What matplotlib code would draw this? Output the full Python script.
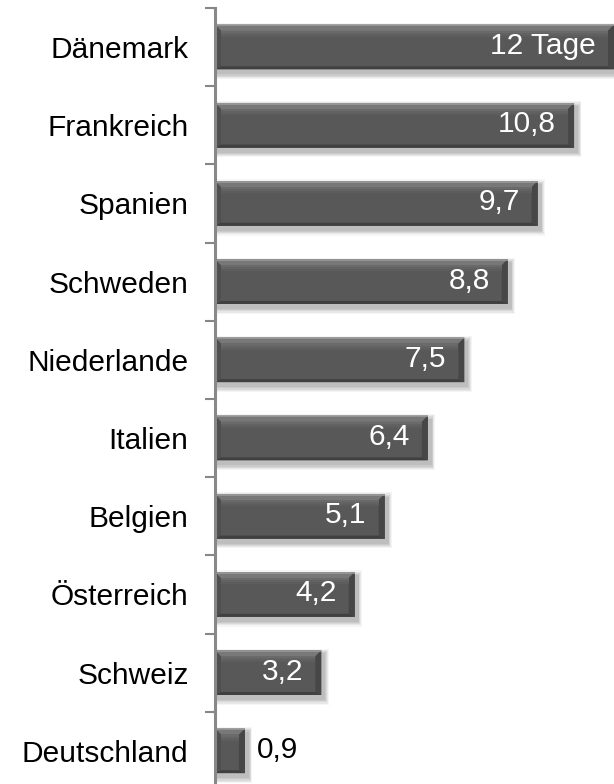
import numpy as np
import matplotlib.pyplot as plt
from matplotlib.patches import Polygon
import matplotlib.patheffects as pe

plt.rcParams['font.family'] = ['Liberation Sans', 'DejaVu Sans']

laender = ['Dänemark', 'Frankreich', 'Spanien', 'Schweden', 'Niederlande',
           'Italien', 'Belgien', 'Österreich', 'Schweiz', 'Deutschland']
tage = [12, 10.8, 9.7, 8.8, 7.5, 6.4, 5.1, 4.2, 3.2, 0.9]
beschriftung = ['12 Tage', '10,8', '9,7', '8,8', '7,5', '6,4', '5,1', '4,2', '3,2', '0,9']

W, H = 614, 784
fig = plt.figure(figsize=(W / 100, H / 100), dpi=100)
ax = fig.add_axes([215 / W, -6 / H, 399 / W, 782 / H])

y = np.arange(len(laender))
hoehe = 0.57
xmax = 12.0
ax.set_xlim(0, xmax)
ax.set_ylim(len(laender) - 0.5, -0.5)

# soft shadow under each bar, built from a few translucent layers
px_x = xmax / 399
px_y = len(laender) / 782
for yi, v in zip(y, tage):
    for k, a in enumerate([0.10, 0.10, 0.10, 0.08, 0.06]):
        grow = k * 1.2
        ax.add_patch(plt.Rectangle((px_x * (2 - grow * 0.3), yi - hoehe / 2 + px_y * (3 - grow)),
                                   v + px_x * (2 + grow), hoehe + px_y * (2 + 2 * grow),
                                   facecolor='#555555', alpha=a, edgecolor='none',
                                   zorder=1, clip_on=False))

bars = ax.barh(y, tage, height=hoehe, color='#585858', edgecolor='none', zorder=2,
               clip_on=False)

# bevel edges, sized in pixels
bx, by = 6 * px_x, 6 * px_y
for yi, v in zip(y, tage):
    x0, x1 = 0, v
    top, bot = yi - hoehe / 2, yi + hoehe / 2
    ex = min(bx, v / 2)
    faces = [
        ([(x0, top), (x1, top), (x1 - ex, top + by), (x0 + ex, top + by)], '#787878'),
        ([(x0, top), (x0 + ex, top + by), (x0 + ex, bot - by / 2), (x0, bot)], '#4f4f4f'),
        ([(x1, top), (x1, bot), (x1 - ex, bot - by / 2), (x1 - ex, top + by)], '#474747'),
        ([(x0, bot), (x0 + ex, bot - by / 2), (x1 - ex, bot - by / 2), (x1, bot)], '#404040'),
    ]
    for pts, c in faces:
        ax.add_patch(Polygon(pts, closed=True, facecolor=c, edgecolor='none', zorder=3,
                             clip_on=False))
    # gradient from the top bevel into the face
    for k, c in enumerate(['#6a6a6a', '#626262', '#5d5d5d']):
        ax.add_patch(Polygon([(x0 + ex, top + by + k * px_y * 2), (x1 - ex, top + by + k * px_y * 2),
                              (x1 - ex, top + by + (k + 1) * px_y * 2),
                              (x0 + ex, top + by + (k + 1) * px_y * 2)],
                             closed=True, facecolor=c, edgecolor='none', zorder=3,
                             clip_on=False))
    # thin light rim along the top
    ax.plot([x0, x1], [top + px_y * 0.5] * 2, color='#9a9a9a', lw=1.2, zorder=4,
            clip_on=False, solid_capstyle='butt')

for yi, v, txt in zip(y, tage, beschriftung):
    if v >= 2:
        ax.annotate(txt, (v, yi), xytext=(-18, 1), textcoords='offset pixels',
                    ha='right', va='center', color='white', fontsize=21.5, zorder=5)
    else:
        ax.annotate(txt, (v, yi), xytext=(12, 1), textcoords='offset pixels',
                    ha='left', va='center', color='black', fontsize=21.5, zorder=5)

ax.set_yticks(y)
ax.set_yticklabels(laender, fontsize=21.5)
ax.set_yticks(np.arange(-0.5, len(laender), 1), minor=True)
ax.tick_params(axis='y', which='major', length=0, pad=19)
ax.tick_params(axis='y', which='minor', length=7, width=1.5, color='#868686')
ax.set_xticks([])

for s in ['top', 'right', 'bottom']:
    ax.spines[s].set_visible(False)
ax.spines['left'].set_color('#888888')
ax.spines['left'].set_linewidth(2.2)
ax.spines['left'].set_zorder(6)

fig.savefig('out.png', dpi=100)
